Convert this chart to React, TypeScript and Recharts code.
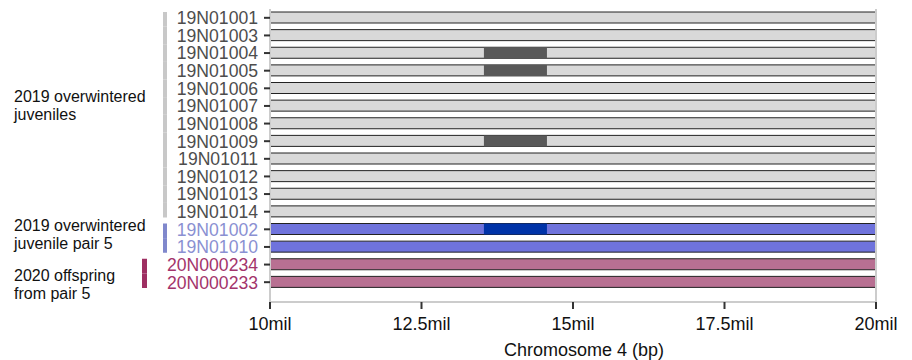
import { BarChart, Bar, XAxis, YAxis, Cell, ReferenceLine } from 'recharts';

// samples, top to bottom
const samples = [
  '19N01001', '19N01003', '19N01004', '19N01005', '19N01006', '19N01007',
  '19N01008', '19N01009', '19N01011', '19N01012', '19N01013', '19N01014',
  '19N01002', '19N01010', '20N000234', '20N000233',
];
// group index of each sample
const sampleGroup = [0, 0, 0, 0, 0, 0, 0, 0, 0, 0, 0, 0, 1, 1, 2, 2];

const groupNames = [
  ['2019 overwintered', 'juveniles'],
  ['2019 overwintered', 'juvenile pair 5'],
  ['2020 offspring', 'from pair 5'],
];
const groupBarColors = ['#c8c8c8', '#8088cc', '#9e2f62'];
const groupTextColors = ['#4d4d4d', '#8a90d2', '#a3346b'];
const bodyColors = ['#d9d9d9', '#6f73dc', '#b87092'];
const regionColors = ['#595959', '#0033a8', '#595959'];

// chromosome window and the shared region
const chromStart = 10000000;
const chromEnd = 20000000;
const regionStart = 13530000;
const regionEnd = 14570000;
const regionSamples = ['19N01004', '19N01005', '19N01009', '19N01002'];

const xTicks = [10000000, 12500000, 15000000, 17500000, 20000000];

// layout bits for the group annotations
const GROUP_BAR_X = [163, 163, 142];
const GROUP_BAR_W = [4, 4, 5];
const GROUP_LABEL_DY = [-13, -7, 8];

const data = samples.map((name, i) => ({
  name,
  group: sampleGroup[i],
  body: [chromStart, chromEnd],
  region: regionSamples.includes(name) ? [regionStart, regionEnd] : null,
}));

const groupSize = (g: number) => sampleGroup.filter((s) => s === g).length;

function SampleTick(props: any) {
  const { x, y, payload, index } = props;
  const half = payload.offset || 8.8;
  const g = sampleGroup[index];
  const first = index === 0 || sampleGroup[index - 1] !== g;
  const last = index === samples.length - 1 || sampleGroup[index + 1] !== g;
  const top = y - half + (first ? 3 : 0);
  const bottom = y + half - (last ? 3 : 0);
  const center = y - half + groupSize(g) * half;
  return (
    <g>
      <text x={x} y={y} dy="0.36em" textAnchor="end" fontSize={17.6} fill={groupTextColors[g]}>
        {payload.value}
      </text>
      <rect x={GROUP_BAR_X[g]} y={top} width={GROUP_BAR_W[g]} height={bottom - top} fill={groupBarColors[g]} />
      {first &&
        groupNames[g].map((line, k) => (
          <text key={k} x={14} y={center + GROUP_LABEL_DY[g] + k * 18} fontSize={16} fill="#111">
            {line}
          </text>
        ))}
    </g>
  );
}

export default function App() {
  return (
    <div style={{ position: 'absolute', left: 0, top: 0, fontFamily: '"Liberation Sans", Arial, sans-serif' }}>
      <BarChart
        width={912}
        height={360}
        data={data}
        layout="vertical"
        margin={{ top: 9, right: 36, left: 0, bottom: 0 }}
        barSize={11}
        barGap={-11}
      >
        <XAxis
          type="number"
          domain={[chromStart, chromEnd]}
          ticks={xTicks}
          tickFormatter={(v) => `${v / 1000000}mil`}
          height={58}
          tickSize={7}
          tickMargin={8}
          axisLine={{ stroke: '#cccccc', strokeWidth: 2 }}
          tickLine={{ stroke: '#333', strokeWidth: 2 }}
          tick={{ fill: '#111', fontSize: 18 }}
          label={{ value: 'Chromosome 4 (bp)', position: 'insideBottom', offset: 4, dx: 11, fill: '#111', fontSize: 18 }}
        />
        <YAxis
          type="category"
          dataKey="name"
          width={270}
          padding={{ top: 0, bottom: 11 }}
          tickSize={6}
          tickMargin={6}
          axisLine={{ stroke: '#cccccc', strokeWidth: 2 }}
          tickLine={{ stroke: '#333', strokeWidth: 2 }}
          tick={<SampleTick />}
          interval={0}
        />
        <ReferenceLine x={chromEnd} stroke="#cccccc" strokeWidth={2} />
        <Bar dataKey="body" stroke="#222" strokeWidth={1} isAnimationActive={false}>
          {data.map((d, i) => (
            <Cell key={`b-${i}`} fill={bodyColors[d.group]} />
          ))}
        </Bar>
        <Bar dataKey="region" isAnimationActive={false}>
          {data.map((d, i) => (
            <Cell key={`r-${i}`} fill={regionColors[d.group]} />
          ))}
        </Bar>
      </BarChart>
    </div>
  );
}
